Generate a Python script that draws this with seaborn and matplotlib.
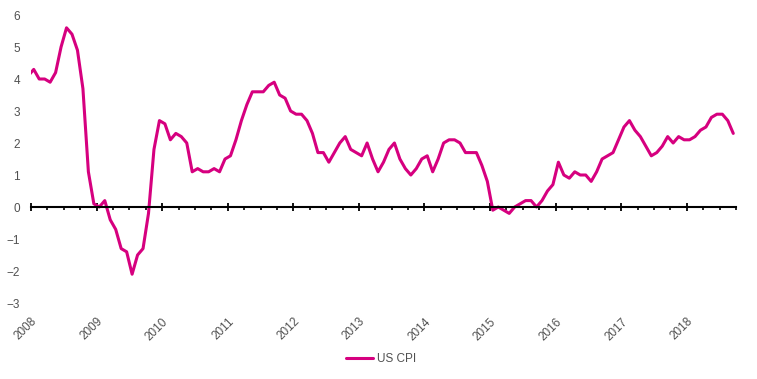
import pandas as pd
import matplotlib
matplotlib.use('Agg')
import matplotlib.pyplot as plt
import seaborn as sns
from matplotlib.ticker import MultipleLocator

# US CPI, variação anual (%), mensal. Começa em dez/2007 (cortado no início do eixo).
inicio = '2007-12'
cpi_2007 = [4.1]
cpi_2008 = [4.3, 4.0, 4.0, 3.9, 4.2, 5.0, 5.6, 5.4, 4.9, 3.7, 1.1, 0.1]
cpi_2009 = [0.0, 0.2, -0.4, -0.7, -1.3, -1.4, -2.1, -1.5, -1.3, -0.2, 1.8, 2.7]
cpi_2010 = [2.6, 2.1, 2.3, 2.2, 2.0, 1.1, 1.2, 1.1, 1.1, 1.2, 1.1, 1.5]
cpi_2011 = [1.6, 2.1, 2.7, 3.2, 3.6, 3.6, 3.6, 3.8, 3.9, 3.5, 3.4, 3.0]
cpi_2012 = [2.9, 2.9, 2.7, 2.3, 1.7, 1.7, 1.4, 1.7, 2.0, 2.2, 1.8, 1.7]
cpi_2013 = [1.6, 2.0, 1.5, 1.1, 1.4, 1.8, 2.0, 1.5, 1.2, 1.0, 1.2, 1.5]
cpi_2014 = [1.6, 1.1, 1.5, 2.0, 2.1, 2.1, 2.0, 1.7, 1.7, 1.7, 1.3, 0.8]
cpi_2015 = [-0.1, 0.0, -0.1, -0.2, 0.0, 0.1, 0.2, 0.2, 0.0, 0.2, 0.5, 0.7]
cpi_2016 = [1.4, 1.0, 0.9, 1.1, 1.0, 1.0, 0.8, 1.1, 1.5, 1.6, 1.7, 2.1]
cpi_2017 = [2.5, 2.7, 2.4, 2.2, 1.9, 1.6, 1.7, 1.9, 2.2, 2.0, 2.2, 2.1]
cpi_2018 = [2.1, 2.2, 2.4, 2.5, 2.8, 2.9, 2.9, 2.7, 2.3]

anos = list(range(2008, 2019))
rotulos_anos = [str(a) for a in anos]
valores_y = list(range(-3, 7))

valores = (cpi_2007 + cpi_2008 + cpi_2009 + cpi_2010 + cpi_2011 + cpi_2012
           + cpi_2013 + cpi_2014 + cpi_2015 + cpi_2016 + cpi_2017 + cpi_2018)
meses = pd.period_range(inicio, periods=len(valores), freq='M')
# meio do mês em ano decimal
x = [m.year + (m.month - 0.5) / 12 for m in meses]
df = pd.DataFrame({'Data': x, 'CPI': valores})

cor = '#d6007f'
cinza = '#505050'

sns.set_style('white')
plt.rcParams['font.family'] = ['Liberation Sans', 'DejaVu Sans']

fig = plt.figure(figsize=(7.57, 3.79), dpi=100)
ax = fig.add_axes([31 / 757, 1 - 303 / 379, 705 / 757, 288 / 379])

sns.lineplot(data=df, x='Data', y='CPI', color=cor, linewidth=2.2,
             label='US CPI', ax=ax)

ax.set_xlim(2008, 2018.75)
ax.set_ylim(-3, 6)
ax.set_xlabel('')
ax.set_ylabel('')

# eixo x passando pelo zero
for s in ['top', 'right', 'left']:
    ax.spines[s].set_visible(False)
ax.spines['bottom'].set_position(('data', 0))
ax.spines['bottom'].set_color('black')
ax.spines['bottom'].set_linewidth(1.5)
ax.set_xticks(anos)
ax.xaxis.set_minor_locator(MultipleLocator(0.25))
ax.tick_params(axis='x', which='major', direction='inout', length=6, width=1.3,
               color='black', labelbottom=False, bottom=True)
ax.tick_params(axis='x', which='minor', direction='out', length=2.5, width=1.2,
               color='black', bottom=True)

ax.set_yticks(valores_y)
ax.tick_params(axis='y', length=0, pad=8, labelsize=8.5, labelcolor=cinza)

# rótulos dos anos embaixo do gráfico
sec = ax.secondary_xaxis('bottom')
sec.set_xticks(anos)
sec.set_xticklabels(rotulos_anos, rotation=45, ha='right', rotation_mode='anchor',
                    fontsize=8.5, color=cinza)
sec.tick_params(length=0, pad=9)
sec.spines['bottom'].set_visible(False)

h, l = ax.get_legend_handles_labels()
ax.get_legend().remove()
fig.legend(h, l, loc='center', bbox_to_anchor=(381 / 757, 1 - 359 / 379),
           frameon=False, fontsize=8.5, labelcolor=cinza,
           handlelength=2.3, handletextpad=0.3)

fig.savefig('out.png', dpi=100, facecolor='white')
